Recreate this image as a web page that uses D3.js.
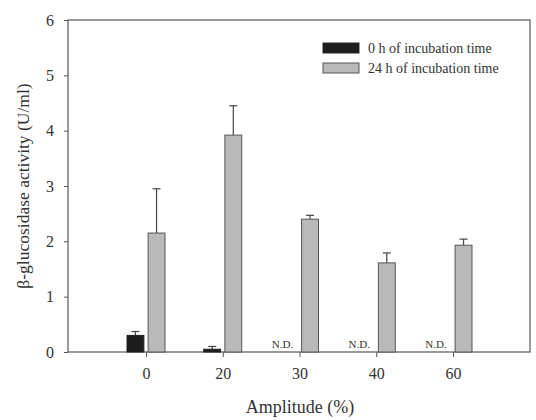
<!DOCTYPE html>
<html>
<head>
<meta charset="utf-8">
<script src="https://cdn.jsdelivr.net/npm/d3@7"></script>
<style>
  html, body { margin: 0; padding: 0; background: #fff; }
  svg { display: block; }
  text { font-family: "Liberation Serif", "Times New Roman", serif; fill: #333; }
</style>
</head>
<body>
<svg id="chart" width="536" height="420"></svg>
<script>
// Amplitude groups (%)
const amplitudes = ["0", "20", "30", "40", "60"];
// β-glucosidase activity (U/ml), mean and error; null = not detected
const activity0h = [0.30, 0.05, null, null, null];
const error0h = [0.07, 0.05, null, null, null];
const activity24h = [2.15, 3.92, 2.40, 1.61, 1.93];
const error24h = [0.80, 0.53, 0.07, 0.18, 0.11];
const seriesNames = ["0 h of incubation time", "24 h of incubation time"];
const yTicks = [0, 1, 2, 3, 4, 5, 6];

const svg = d3.select("#chart");
const frame = { left: 68, right: 530, top: 20, bottom: 352 };
const axisColor = "#555";

const y = d3.scaleLinear().domain([0, 6]).range([frame.bottom, frame.top]);
const x = d3.scalePoint().domain(amplitudes).range([146, 453]);
const xSub = d3.scaleBand().domain([0, 1]).range([-19, 19]).paddingInner(0.2);

// frame box
svg.append("rect")
  .attr("x", frame.left).attr("y", frame.top)
  .attr("width", frame.right - frame.left).attr("height", frame.bottom - frame.top)
  .attr("fill", "none").attr("stroke", axisColor).attr("stroke-width", 1.2);

// y axis
const yAxis = svg.append("g")
  .attr("transform", `translate(${frame.left},0)`)
  .call(d3.axisLeft(y).tickValues(yTicks).tickSize(4).tickPadding(10).tickFormat(d3.format("d")));
yAxis.select(".domain").remove();
yAxis.selectAll("line").attr("stroke", axisColor);
yAxis.selectAll("text").style("font-family", "Liberation Serif, serif").style("font-size", "16px").attr("fill", "#333");

// x axis
const xAxis = svg.append("g")
  .attr("transform", `translate(0,${frame.bottom})`)
  .call(d3.axisBottom(x).tickSize(5).tickPadding(11));
xAxis.select(".domain").remove();
xAxis.selectAll("line").attr("stroke", axisColor);
xAxis.selectAll("text").style("font-family", "Liberation Serif, serif").style("font-size", "16px").attr("fill", "#333");

// bars
const fills = ["#1c1c1c", "#b9b9b9"];
const strokes = ["#222", "#555"];
const seriesVals = [activity0h, activity24h];
const seriesErr = [error0h, error24h];

seriesVals.forEach((vals, s) => {
  const rows = amplitudes.map((a, i) => ({ a, v: vals[i], e: seriesErr[s][i] })).filter(d => d.v !== null);
  const g = svg.append("g");
  // error bars (upper only)
  g.selectAll("line.err").data(rows).join("line")
    .attr("x1", d => x(d.a) + xSub(s) + xSub.bandwidth() / 2)
    .attr("x2", d => x(d.a) + xSub(s) + xSub.bandwidth() / 2)
    .attr("y1", d => y(d.v)).attr("y2", d => y(d.v + d.e))
    .attr("stroke", "#444").attr("stroke-width", 1.2);
  g.selectAll("line.cap").data(rows).join("line")
    .attr("x1", d => x(d.a) + xSub(s) + xSub.bandwidth() / 2 - 4)
    .attr("x2", d => x(d.a) + xSub(s) + xSub.bandwidth() / 2 + 4)
    .attr("y1", d => y(d.v + d.e)).attr("y2", d => y(d.v + d.e))
    .attr("stroke", "#444").attr("stroke-width", 1.2);
  g.selectAll("rect").data(rows).join("rect")
    .attr("x", d => x(d.a) + xSub(s))
    .attr("width", xSub.bandwidth())
    .attr("y", d => y(d.v))
    .attr("height", d => y(0) - y(d.v))
    .attr("fill", fills[s]).attr("stroke", strokes[s]).attr("stroke-width", 1);
});

// not-detected labels
svg.append("g").selectAll("text")
  .data(amplitudes.filter((a, i) => activity0h[i] === null))
  .join("text")
  .attr("x", d => x(d) - 17)
  .attr("y", frame.bottom - 4)
  .attr("text-anchor", "middle")
  .style("font-size", "11px")
  .text("N.D.");

// legend
const legend = svg.append("g");
seriesNames.forEach((name, i) => {
  legend.append("rect")
    .attr("x", 323).attr("y", 43 + i * 20)
    .attr("width", 36).attr("height", 10)
    .attr("fill", fills[i]).attr("stroke", strokes[i]);
  legend.append("text")
    .attr("x", 368).attr("y", 53 + i * 20)
    .style("font-size", "14px")
    .text(name);
});

// axis titles
svg.append("text")
  .attr("transform", `translate(29,${(frame.top + frame.bottom) / 2}) rotate(-90)`)
  .attr("text-anchor", "middle")
  .style("font-size", "17.5px")
  .text("β-glucosidase activity (U/ml)");

svg.append("text")
  .attr("x", 300).attr("y", 413)
  .attr("text-anchor", "middle")
  .style("font-size", "18px")
  .text("Amplitude (%)");
</script>
</body>
</html>
